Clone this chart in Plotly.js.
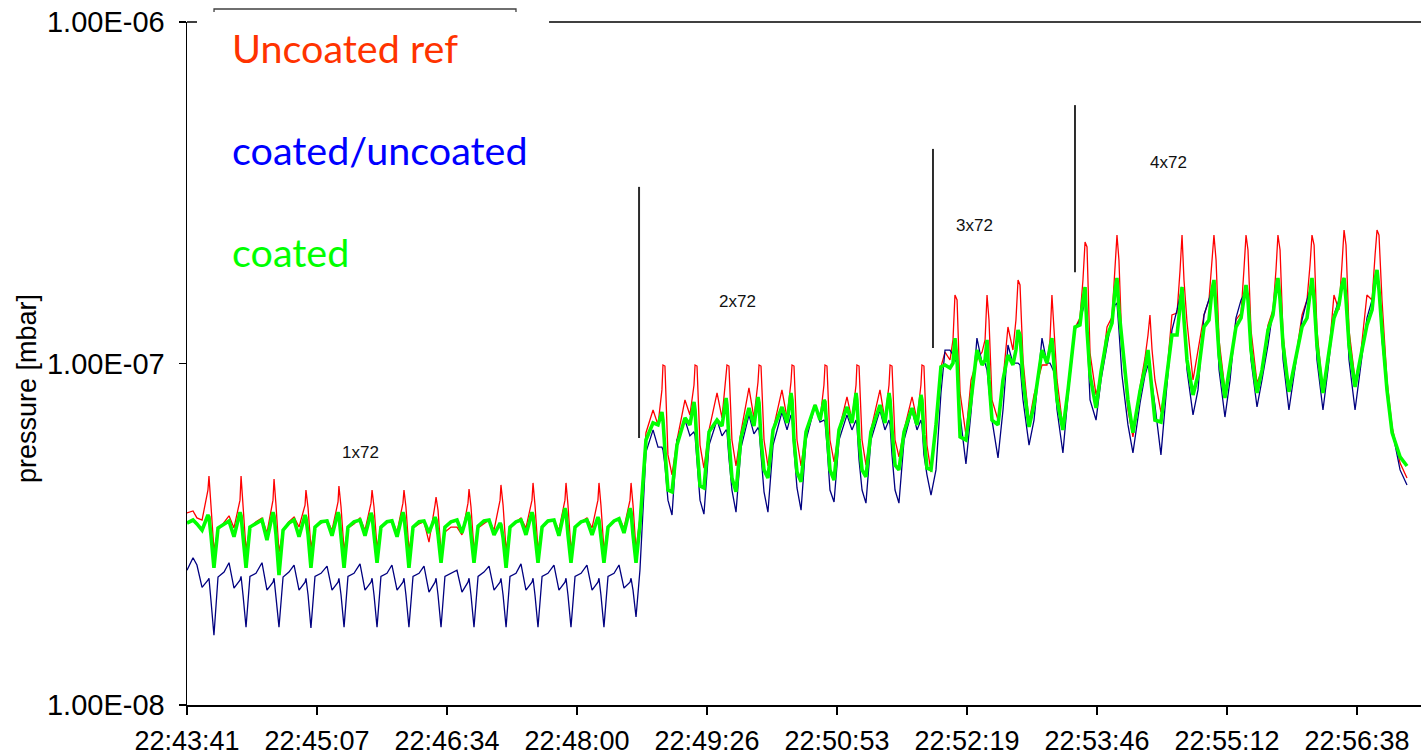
<!DOCTYPE html>
<html>
<head>
<meta charset="utf-8">
<script src="https://cdn.plot.ly/plotly-3.0.1.min.js"></script>
<style>
  html, body { margin: 0; padding: 0; background: #ffffff; }
  #chart { width: 1421px; height: 756px; }
</style>
</head>
<body>
<div id="chart"></div>
<script>
// Sample times, seconds after 22:43:41
const timeSec = [
  0, 4.0,
  6.6, 10.0, 13.9, 14.6, 15.9, 17.9, 20.6, 24.6,
  27.9, 31.2, 35.2, 35.9, 37.2, 39.2, 41.8, 45.8,
  49.8, 53.1, 57.1, 57.8, 59.1, 61.1, 63.8, 67.7,
  71.1, 74.4, 78.4, 79.0, 80.4, 82.3, 85.0, 89.0,
  93.0, 96.3, 100.3, 100.9, 102.3, 104.3, 106.9, 110.9,
  114.9, 118.2, 122.2, 122.9, 124.2, 126.2, 128.8, 132.8,
  136.1, 139.5, 143.4, 144.1, 145.4, 147.4, 150.1, 154.1,
  157.4, 160.7, 164.7, 165.4, 166.7, 168.7, 171.3, 175.3,
  179.3, 182.6, 186.6, 187.3, 188.6, 190.6, 193.3, 197.2,
  200.6, 203.9, 207.9, 208.5, 209.9, 211.9, 214.5, 218.5,
  221.8, 225.1, 229.1, 229.8, 231.1, 233.1, 235.8, 239.7,
  243.7, 247.0, 251.0, 251.7, 253.0, 255.0, 257.7, 261.7,
  265.6, 269.0, 272.9, 273.6, 274.9, 276.9, 279.6, 283.6,
  286.9, 290.2, 294.2, 294.9, 296.2, 298.2, 300.8, 304.8,
  309.5, 312.8, 315.4, 316.1, 317.4, 319.4, 322.1, 325.4,
  330.7, 334.0, 336.7, 337.4, 338.7, 340.7, 343.3, 346.7,
  352.0, 355.3, 358.0, 358.6, 359.9, 361.9, 364.6, 367.9,
  373.2, 376.5, 379.2, 379.9, 381.2, 383.2, 385.8, 389.2,
  395.1, 398.5, 401.1, 401.8, 403.1, 405.1, 407.8, 411.1,
  417.1, 420.4, 423.0, 423.7, 425.0, 427.0, 429.7, 433.0,
  438.3, 441.6, 444.3, 444.9, 446.3, 448.3, 450.9, 454.2,
  460.2, 463.5, 466.2, 466.9, 468.2, 470.2, 472.8, 476.2,
  481.5, 484.8, 487.4, 488.1, 489.4, 491.4, 494.1, 497.4, 500.7,
  503.4, 506.7, 508.7, 510.0, 511.4, 513.4, 517.3, 520.7,
  524.6, 528.0, 530.0, 531.3, 532.6, 534.6, 538.6, 541.9,
  545.2, 548.5, 550.5, 551.9, 553.2, 555.2, 559.2, 562.5,
  567.8, 571.1, 573.1, 574.4, 575.8, 577.8, 581.7, 585.1,
  589.7, 593.0, 595.0, 596.4, 597.7, 599.7, 603.7, 607.0,
  611.0, 614.3, 616.3, 617.6, 618.9, 620.9, 624.9, 628.2,
  632.9, 636.2, 638.2, 639.5, 640.9, 642.8, 646.8, 650.2,
  654.1, 657.5, 659.5, 660.8, 662.1, 664.1, 668.1, 671.4,
  675.4, 678.7, 680.7, 682.0, 683.4, 685.4, 689.3, 692.7,
  696.6, 700.0, 701.9, 703.3, 704.6, 706.6, 710.6, 713.9,
  717.9, 721.2, 723.2, 724.5, 725.9, 727.9, 731.8, 735.2,
  740.5, 743.8, 745.8, 747.1, 748.5, 750.4, 754.4, 757.7,
  761.7, 765.0, 767.0, 768.4, 769.7, 771.7, 775.7, 779.0,
  783.6, 787.0, 789.0, 790.3, 791.6, 793.6, 796.9, 800.3, 805.6, 810.2
];

// Pressures in units of 1e-8 mbar
const uncoatedRef = [
  3.65, 3.70,
  3.53, 3.48, 4.26, 4.68, 3.85, 2.84, 3.25, 3.44,
  3.58, 3.30, 3.98, 4.68, 3.85, 2.84, 3.32, 3.44,
  3.53, 3.19, 3.98, 4.59, 3.85, 2.80, 3.25, 3.44,
  3.55, 3.32, 3.85, 4.26, 3.77, 2.88, 3.32, 3.41,
  3.48, 3.25, 3.93, 4.38, 3.80, 2.84, 3.30, 3.39,
  3.53, 3.25, 3.90, 4.26, 3.80, 2.88, 3.34, 3.44,
  3.48, 3.21, 3.90, 4.26, 3.80, 2.84, 3.30, 3.39,
  3.44, 3.00, 3.85, 4.06, 3.72, 2.80, 3.21, 3.32,
  3.32, 3.15, 3.90, 4.29, 3.80, 2.84, 3.30, 3.39,
  3.48, 3.25, 3.98, 4.41, 3.85, 2.84, 3.32, 3.44,
  3.53, 3.30, 3.98, 4.47, 3.85, 2.84, 3.32, 3.44,
  3.48, 3.25, 3.98, 4.47, 3.85, 2.84, 3.32, 3.44,
  3.53, 3.30, 3.98, 4.47, 3.85, 2.84, 3.32, 3.44,
  3.53, 3.30, 3.98, 4.47, 3.85, 2.84, 3.53, 6.27,
  7.31, 6.61, 8.37, 9.90, 9.83, 5.40, 4.72, 5.97,
  7.82, 7.07, 8.65, 9.90, 9.83, 5.77, 4.94, 6.39,
  8.20, 6.93, 8.95, 9.90, 9.83, 5.97, 5.01, 6.31,
  8.48, 6.93, 8.83, 9.90, 9.83, 5.97, 5.01, 6.39,
  8.37, 6.93, 8.83, 9.90, 9.83, 5.97, 5.01, 6.39,
  7.56, 6.83, 8.65, 9.90, 9.83, 5.97, 5.15, 6.39,
  7.98, 6.83, 8.65, 9.90, 9.83, 5.97, 5.04, 6.39,
  8.37, 6.83, 8.65, 9.90, 9.83, 5.97, 5.33, 6.39,
  7.98, 6.83, 8.65, 9.90, 9.83, 5.77, 4.81, 6.74, 9.77,
  10.80, 10.24, 11.72, 15.87, 15.35, 8.20, 6.18, 8.95,
  10.24, 10.80, 11.72, 15.87, 13.41, 7.82, 6.83, 8.95,
  12.79, 10.95, 13.41, 17.56, 16.98, 10.24, 6.70, 8.09,
  9.90, 9.90, 11.72, 15.87, 12.53, 8.95, 6.48, 8.65,
  12.70, 13.59, 17.56, 22.69, 21.94, 10.73, 8.09, 9.25,
  12.79, 13.68, 18.79, 23.78, 20.10, 11.33, 7.31, 6.10,
  8.54, 10.38, 12.12, 13.87, 10.95, 8.95, 7.21, 8.77,
  13.87, 14.05, 18.79, 23.78, 17.56, 13.23, 8.95, 10.95,
  13.87, 15.35, 20.10, 23.78, 20.10, 11.72, 8.37, 9.45,
  13.41, 14.05, 18.79, 23.78, 21.50, 12.53, 8.77, 9.57,
  12.96, 14.35, 18.79, 23.78, 21.50, 12.12, 8.37, 9.57,
  13.87, 15.35, 19.43, 23.78, 22.23, 12.53, 8.20, 9.90,
  15.87, 14.35, 19.43, 24.60, 22.23, 12.53, 8.95, 10.24,
  15.87, 15.35, 20.79, 24.60, 23.78, 15.35, 8.95, 6.52, 5.11, 4.62
];

const coatedUncoated = [
  2.48, 2.70,
  2.57, 2.21, 2.32, 2.35, 2.03, 1.60, 2.37, 2.45,
  2.61, 2.20, 2.32, 2.38, 2.10, 1.69, 2.38, 2.43,
  2.61, 2.17, 2.29, 2.35, 2.07, 1.69, 2.37, 2.45,
  2.57, 2.17, 2.29, 2.35, 2.10, 1.68, 2.38, 2.43,
  2.55, 2.17, 2.29, 2.35, 2.10, 1.69, 2.38, 2.43,
  2.59, 2.17, 2.29, 2.35, 2.10, 1.69, 2.38, 2.43,
  2.57, 2.17, 2.29, 2.35, 2.10, 1.69, 2.38, 2.43,
  2.55, 2.14, 2.29, 2.35, 2.10, 1.69, 2.38, 2.43,
  2.48, 2.14, 2.29, 2.35, 2.10, 1.69, 2.38, 2.45,
  2.55, 2.17, 2.29, 2.35, 2.10, 1.69, 2.38, 2.43,
  2.59, 2.17, 2.29, 2.35, 2.10, 1.69, 2.38, 2.43,
  2.57, 2.17, 2.29, 2.35, 2.10, 1.69, 2.38, 2.43,
  2.57, 2.17, 2.29, 2.35, 2.10, 1.69, 2.38, 2.43,
  2.57, 2.20, 2.29, 2.35, 2.17, 1.81, 2.48, 5.50,
  6.39, 5.69, 5.69, 5.58, 5.04, 3.98, 3.60, 5.97,
  6.83, 6.14, 6.31, 6.14, 5.22, 3.98, 3.62, 5.77,
  6.83, 6.14, 6.39, 6.31, 5.29, 4.26, 3.67, 5.66,
  7.07, 6.22, 6.48, 6.39, 5.40, 4.21, 3.67, 5.77,
  7.21, 6.39, 7.07, 6.93, 5.58, 4.32, 3.72, 5.97,
  7.56, 6.74, 6.83, 6.74, 5.77, 4.26, 3.93, 5.97,
  7.07, 6.39, 6.83, 6.61, 5.22, 4.26, 3.90, 5.97,
  7.31, 6.39, 6.83, 6.61, 5.40, 4.26, 3.90, 5.97,
  7.31, 6.39, 6.83, 6.61, 5.40, 4.72, 4.12, 4.88, 8.20,
  10.95, 10.95, 10.59, 10.24, 10.03, 7.07, 5.08, 7.21,
  11.87, 10.03, 10.03, 9.57, 8.37, 6.83, 5.29, 7.31,
  11.33, 10.03, 10.03, 10.03, 9.90, 7.82, 5.77, 6.83,
  11.87, 10.03, 10.03, 9.70, 9.45, 7.31, 5.47, 8.09,
  12.53, 13.41, 14.35, 15.35, 12.53, 7.82, 6.83, 8.95,
  11.18, 13.68, 14.84, 15.04, 12.53, 9.25, 6.61, 5.47,
  7.66, 9.25, 9.90, 9.25, 8.65, 7.56, 5.40, 8.09,
  12.53, 14.35, 15.87, 16.75, 13.41, 9.57, 7.07, 8.37,
  13.87, 15.35, 16.42, 17.33, 14.35, 9.57, 6.97, 8.95,
  13.59, 15.35, 15.87, 16.09, 15.35, 10.24, 7.46, 8.95,
  11.33, 14.35, 16.42, 17.80, 15.35, 10.24, 7.31, 9.25,
  13.41, 15.35, 16.42, 17.56, 15.35, 10.24, 7.31, 9.57,
  13.87, 15.35, 16.98, 17.80, 15.35, 10.24, 7.31, 9.57,
  13.59, 15.35, 16.98, 18.53, 16.42, 11.72, 8.37, 6.39, 4.88, 4.41
];

const coated = [
  3.41, 3.48,
  3.39, 3.25, 3.60, 3.55, 3.15, 2.52, 3.30, 3.39,
  3.46, 3.11, 3.67, 3.58, 3.15, 2.52, 3.32, 3.41,
  3.48, 3.04, 3.67, 3.58, 3.15, 2.40, 3.25, 3.41,
  3.48, 3.11, 3.60, 3.53, 3.15, 2.52, 3.32, 3.44,
  3.46, 3.13, 3.67, 3.60, 3.15, 2.52, 3.32, 3.44,
  3.48, 3.13, 3.65, 3.58, 3.15, 2.61, 3.32, 3.44,
  3.46, 3.11, 3.67, 3.58, 3.15, 2.52, 3.32, 3.44,
  3.46, 3.19, 3.55, 3.48, 3.15, 2.61, 3.32, 3.44,
  3.48, 3.19, 3.67, 3.58, 3.15, 2.61, 3.34, 3.46,
  3.48, 3.15, 3.41, 3.37, 3.09, 2.52, 3.32, 3.44,
  3.48, 3.15, 3.67, 3.58, 3.15, 2.61, 3.32, 3.46,
  3.48, 3.13, 3.77, 3.67, 3.15, 2.61, 3.32, 3.44,
  3.48, 3.15, 3.55, 3.48, 3.11, 2.61, 3.32, 3.46,
  3.51, 3.19, 3.77, 3.67, 3.15, 2.61, 3.37, 5.97,
  6.70, 6.61, 7.21, 6.83, 5.58, 4.26, 4.21, 5.77,
  6.93, 6.61, 7.72, 7.31, 5.77, 4.38, 4.32, 6.31,
  6.83, 6.56, 7.93, 7.56, 5.97, 4.62, 4.21, 6.06,
  7.41, 6.56, 7.98, 7.66, 5.97, 4.88, 4.62, 6.39,
  7.46, 6.70, 8.20, 7.82, 5.97, 4.81, 4.50, 6.31,
  7.56, 6.83, 7.82, 7.72, 6.39, 4.88, 4.56, 6.39,
  7.46, 6.70, 8.20, 7.82, 5.97, 4.88, 4.66, 6.31,
  7.56, 6.70, 8.20, 7.82, 6.39, 5.04, 4.88, 6.31,
  7.41, 6.61, 8.09, 7.82, 6.18, 4.94, 4.88, 6.61, 9.77,
  9.90, 9.70, 10.03, 11.87, 10.24, 6.10, 5.97, 7.82,
  10.95, 9.90, 10.24, 11.72, 8.95, 6.83, 6.61, 8.95,
  10.59, 9.90, 10.95, 12.53, 12.12, 8.95, 6.52, 7.56,
  10.95, 10.03, 11.33, 11.87, 9.90, 7.82, 6.39, 8.37,
  12.79, 12.96, 15.35, 16.75, 12.53, 9.25, 7.41, 9.45,
  11.96, 13.14, 16.42, 17.80, 14.35, 11.72, 7.82, 6.27,
  8.30, 9.70, 10.95, 9.57, 8.09, 6.83, 6.74, 8.77,
  12.12, 12.12, 15.35, 16.75, 13.41, 10.24, 8.09, 9.25,
  12.79, 13.41, 16.42, 17.56, 14.35, 10.59, 7.93, 9.77,
  12.79, 13.59, 15.87, 16.98, 15.35, 10.95, 8.20, 9.57,
  12.53, 13.87, 16.42, 17.80, 15.35, 11.33, 8.26, 9.90,
  12.79, 13.59, 16.42, 17.80, 15.35, 11.33, 8.20, 10.24,
  13.59, 14.84, 16.98, 17.80, 15.35, 11.33, 8.54, 10.24,
  12.96, 14.35, 17.56, 18.79, 16.42, 12.53, 8.37, 6.27, 5.33, 5.01
];

const UNIT_MBAR = 1e-8;

// Time axis ticks
const tickSec = [0, 86.33, 172.67, 259, 345.33, 431.67, 518, 604.33, 690.67, 777];
const tickLabels = ['22:43:41', '22:45:07', '22:46:34', '22:48:00', '22:49:26',
                    '22:50:53', '22:52:19', '22:53:46', '22:55:12', '22:56:38'];

// Pressure axis ticks
const pTicks = [1e-8, 1e-7, 1e-6];
const pTickLabels = ['1.00E-08', '1.00E-07', '1.00E-06'];

// Batch injection markers and their labels
const injectSec = [300.2, 495.4, 589.7];
const injectLow = [6.05e-8, 1.11e-7, 1.85e-7];
const injectHigh = [3.29e-7, 4.25e-7, 5.71e-7];
const batchNames = ['1x72', '2x72', '3x72', '4x72'];
const batchLabelSec = [114.9, 365.3, 522.7, 651.5];
const batchLabelP = [5.47e-8, 1.514e-7, 2.53e-7, 3.89e-7];

// Series names and colours
const seriesNames = ['Uncoated ref', 'coated/uncoated', 'coated'];
const seriesLineColors = ['#ff0000', '#000080', '#00ff00'];
const seriesTextColors = ['#ff3300', '#0000ff', '#00ff00'];

const toMbar = arr => arr.map(v => v * UNIT_MBAR);

const traces = [
  { x: timeSec, y: toMbar(uncoatedRef), name: seriesNames[0], type: 'scatter', mode: 'lines',
    line: { color: seriesLineColors[0], width: 1.3 } },
  { x: timeSec, y: toMbar(coatedUncoated), name: seriesNames[1], type: 'scatter', mode: 'lines',
    line: { color: seriesLineColors[1], width: 1.3 } },
  { x: timeSec, y: toMbar(coated), name: seriesNames[2], type: 'scatter', mode: 'lines',
    line: { color: seriesLineColors[2], width: 3.6 } }
];

injectSec.forEach((t, i) => {
  traces.push({
    x: [t, t], y: [injectLow[i], injectHigh[i]], type: 'scatter', mode: 'lines',
    line: { color: '#2b2b2b', width: 2 }, hoverinfo: 'skip'
  });
});

const annotations = batchNames.map((txt, i) => ({
  x: batchLabelSec[i], y: Math.log10(batchLabelP[i]), xref: 'x', yref: 'y',
  text: txt, showarrow: false, xanchor: 'center', yanchor: 'middle',
  font: { family: 'Liberation Sans, Arial, sans-serif', size: 17, color: '#111111' }
}));

// Series key, written as coloured text
const keyY = [0.9620, 0.8140, 0.6640];
seriesNames.forEach((txt, i) => {
  annotations.push({
    x: 0.0348, y: keyY[i], xref: 'paper', yref: 'paper', text: txt, showarrow: false,
    xanchor: 'left', yanchor: 'middle',
    font: { family: 'Lato, Carlito, sans-serif', size: 39.5, color: seriesTextColors[i] }
  });
});

// Pressure axis title, set a little below the axis middle
annotations.push({
  x: -0.1297, y: 0.4641, xref: 'paper', yref: 'paper', text: 'pressure [mbar]',
  textangle: -90, showarrow: false, xanchor: 'center', yanchor: 'middle',
  font: { family: 'Liberation Sans, Arial, sans-serif', size: 27, color: '#000000' }
});

const shapes = [
  // frame line along the top of the plot area
  { type: 'line', xref: 'paper', yref: 'paper', x0: 0, x1: 1, y0: 1, y1: 1,
    line: { color: '#000000', width: 1.3 } },
  // white panel behind the key
  { type: 'rect', xref: 'paper', yref: 'paper', x0: 0.0081, x1: 0.2934, y0: 0.6223, y1: 1.0249,
    fillcolor: '#ffffff', line: { width: 0 }, layer: 'above' },
  // key panel top border
  { type: 'path', xref: 'paper', yref: 'paper',
    path: 'M 0.0219 1.0146 L 0.0219 1.0190 L 0.2666 1.0190 L 0.2666 1.0146',
    line: { color: '#404040', width: 1.3 }, layer: 'above' }
];

const xFont = { family: 'Liberation Sans, Arial, sans-serif', size: 27, color: '#000000' };
const yFont = { family: 'Liberation Sans, Arial, sans-serif', size: 29, color: '#000000' };

const layout = {
  width: 1421, height: 756,
  margin: { l: 187, r: 0, t: 22, b: 51, pad: 0 },
  paper_bgcolor: '#ffffff', plot_bgcolor: '#ffffff',
  showlegend: false,
  xaxis: {
    type: 'linear', range: [0, 819.5],
    tickmode: 'array', tickvals: tickSec, ticktext: tickLabels,
    ticks: 'outside', ticklen: 8, tickwidth: 1.3, tickcolor: '#000000',
    ticklabelstandoff: 3,
    showline: true, linecolor: '#000000', linewidth: 1.5,
    showgrid: false, zeroline: false, tickfont: xFont
  },
  yaxis: {
    type: 'log', range: [-8, -6],
    tickmode: 'array', tickvals: pTicks, ticktext: pTickLabels,
    ticks: 'outside', ticklen: 7, tickwidth: 1.3, tickcolor: '#000000',
    ticklabelstandoff: 8,
    showline: true, linecolor: '#000000', linewidth: 1.5,
    showgrid: false, zeroline: false, tickfont: yFont
  },
  annotations: annotations,
  shapes: shapes
};

Plotly.newPlot('chart', traces, layout, { staticPlot: true, displayModeBar: false });
</script>
</body>
</html>
